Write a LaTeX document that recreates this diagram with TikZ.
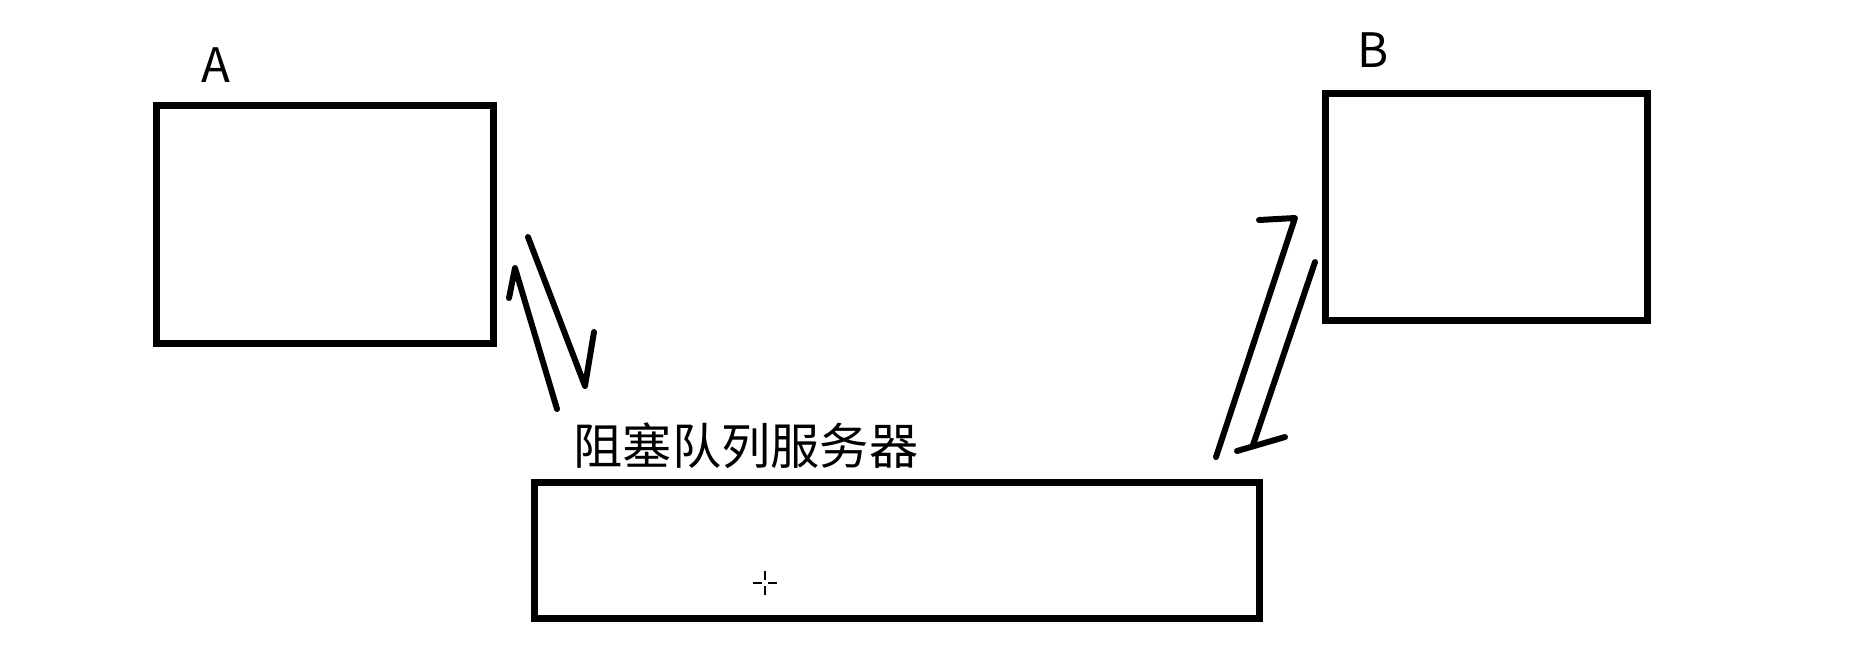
\documentclass[tikz,border=0pt]{standalone}
\usepackage{fontspec}
\newfontfamily\cjk{Noto Sans CJK SC}
\usetikzlibrary{positioning}

\begin{document}
\begin{tikzpicture}[x=0.01cm, y=-0.01cm,
    box/.style={draw, line width=2pt, inner sep=0pt},
    tag/.style={inner sep=0pt, font=\cjk\fontsize{13.5}{15}\selectfont},
    title/.style={inner sep=0pt, font=\cjk\fontsize{14}{16}\selectfont},
    flow/.style={line width=1.7pt, line cap=round, line join=round}]
  \path[use as bounding box, fill=white] (0,0) rectangle (1850,650);

  % the two clients and the queue server
  \node (A) [box, minimum width=3.36cm, minimum height=2.37cm] at (325,224.5) {};
  \node (B) [box, minimum width=3.21cm, minimum height=2.26cm] at (1486.5,207) {};
  \node (Q) [box, minimum width=7.24cm, minimum height=1.35cm] at (897,550.5) {};

  \node (labelA) [tag] at (216,65) {A};
  \node (labelB) [tag] at (1373,50) {B};
  \node (labelQ) [title] at (746,446) {阻塞队列服务器};

  % hand drawn arrows between A and the server
  \coordinate (a1) at (557,409);
  \coordinate (a2) at (515,268);
  \coordinate (a3) at (509,298);
  \coordinate (b1) at (528,237);
  \coordinate (b2) at (585,386);
  \coordinate (b3) at (594,332);
  \draw[flow] (a1) -- (a2) -- (a3);
  \draw[flow] (b1) -- (b2) -- (b3);

  % hand drawn arrows between the server and B
  \coordinate (c1) at (1216,457);
  \coordinate (c2) at (1295,218);
  \coordinate (c3) at (1259,220);
  \coordinate (d1) at (1315,262);
  \coordinate (d2) at (1253,445);
  \coordinate (d3) at (1237,451);
  \coordinate (d4) at (1285,437);
  \draw[flow] (c1) -- (c2) -- (c3);
  \draw[flow] (d1) -- (d2);
  \draw[flow] (d3) -- (d4);

  % mouse cursor
  \coordinate (m) at (765,583);
  \draw[line width=0.5pt] ([xshift=-0.12cm]m) -- ([xshift=-0.03cm]m)
    ([xshift=0.03cm]m) -- ([xshift=0.12cm]m)
    ([yshift=-0.12cm]m) -- ([yshift=-0.03cm]m)
    ([yshift=0.03cm]m) -- ([yshift=0.12cm]m);
\end{tikzpicture}
\end{document}
